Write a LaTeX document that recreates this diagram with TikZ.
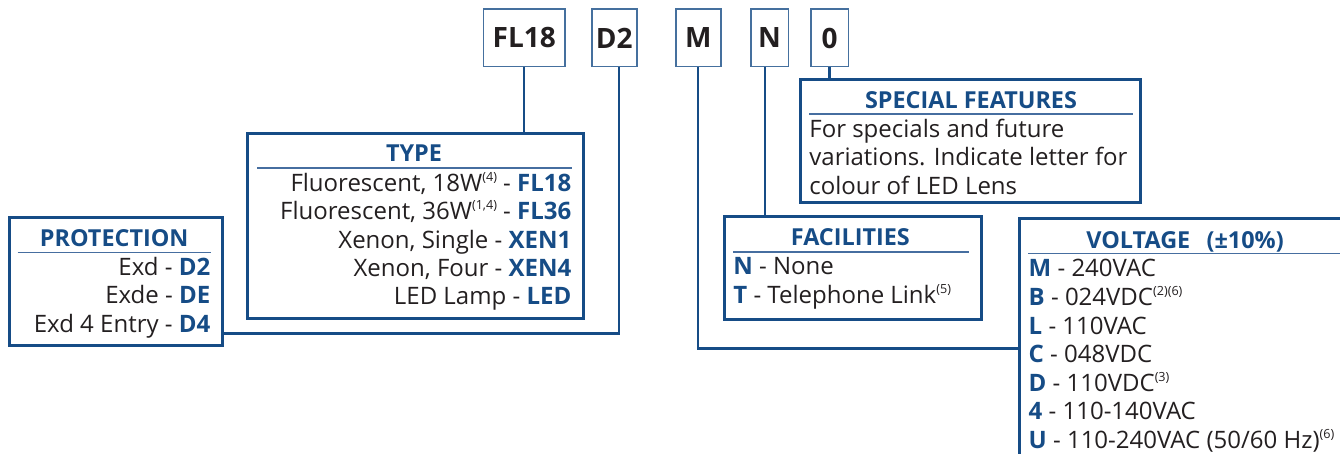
\documentclass[tikz,border=0pt]{standalone}
\usepackage{fontspec}
\setmainfont{Open Sans}
\usetikzlibrary{positioning}

\definecolor{frameblue}{RGB}{22,76,134}
\definecolor{ruleblue}{RGB}{70,110,160}
\definecolor{textgray}{RGB}{35,31,32}

\newcommand\code[1]{\textbf{\color{frameblue}#1}}
\newcommand\note[1]{\raisebox{.8ex}{\fontsize{6.3}{7}\selectfont(#1)}}

\tikzset{
    codebox/.style={draw=frameblue!80, line width=.8pt, minimum height=28.7pt, inner sep=0pt,
        text=textgray, font=\fontsize{14}{16}\selectfont\bfseries},
    panel/.style={draw=frameblue, line width=1.5pt, inner sep=0pt, anchor=north west},
    link/.style={draw=frameblue, line width=1.25pt},
    hrule/.style={draw=ruleblue, line width=.75pt},
    head/.style={anchor=base, inner sep=0pt, text=frameblue, font=\fontsize{11.7}{13}\selectfont\bfseries},
    item/.style={inner sep=0pt, text=textgray, font=\fontsize{12}{14}\selectfont}
}

\begin{document}
\begin{tikzpicture}[x=.5pt,y=-.5pt]
    \useasboundingbox (0,0) rectangle (1340,454);
    \clip (0,0) rectangle (1340,454);

    % code boxes
    \node[codebox, minimum width=40.85pt] (cFL) at (524.2,38) {FL18};
    \node[codebox, minimum width=22.5pt] (cD2) at (614.2,38) {D2};
    \node[codebox, minimum width=22.5pt] (cM) at (698.2,38) {M};
    \node[codebox, minimum width=18.8pt] (cN) at (769.5,38) {N};
    \node[codebox, minimum width=18.8pt] (cZero) at (829.5,38) {0};

    % panels
    \node[panel, minimum width=168.15pt, minimum height=92.5pt] (type) at (246,131.7) {};
    \node[panel, minimum width=106.35pt, minimum height=64.15pt] (protection) at (8.3,216) {};
    \node[panel, minimum width=128.7pt, minimum height=51.35pt] (facilities) at (722.8,215) {};
    \node[panel, minimum width=169.8pt, minimum height=61.65pt] (special) at (799,77.7) {};
    \node[panel, minimum width=200pt, minimum height=150pt] (voltage) at (1018.3,217.3) {};

    % type
    \node[head] (typeHead) at (414,161.7) {TYPE};
    \draw[hrule] (257,168) -- (571.7,168);
    \node[item, anchor=base east] (typeA) at (571.7,191.7) {Fluorescent, 18W\note{4} - \code{FL18}};
    \node[item, anchor=base east] (typeB) at (571.7,220) {Fluorescent, 36W\note{1,4} - \code{FL36}};
    \node[item, anchor=base east] (typeC) at (571.7,248.3) {Xenon, Single - \code{XEN1}};
    \node[item, anchor=base east] (typeD) at (571.7,276.7) {Xenon, Four - \code{XEN4}};
    \node[item, anchor=base east] (typeE) at (571.7,305) {LED Lamp - \code{LED}};

    % protection
    \node[head] (protHead) at (114.2,246.7) {PROTECTION};
    \draw[hrule] (17.7,252.3) -- (210.7,252.3);
    \node[item, anchor=base east] (protA) at (210.7,276) {Exd - \code{D2}};
    \node[item, anchor=base east] (protB) at (210.7,304) {Exde - \code{DE}};
    \node[item, anchor=base east] (protC) at (210.7,332.3) {Exd 4 Entry - \code{D4}};

    % facilities
    \node[head] (facHead) at (850.4,245.7) {FACILITIES};
    \draw[hrule] (733,252) -- (968.6,252);
    \node[item, anchor=base west] (facA) at (733,275) {\code{N} - None};
    \node[item, anchor=base west] (facB) at (733,303.3) {\code{T} - Telephone Link\note{5}};

    % special features
    \node[head] (specHead) at (971,108.3) {SPECIAL FEATURES};
    \draw[hrule] (809,114) -- (1132.8,114);
    \node[item, anchor=base west] (specA) at (809,137.3) {For specials and future};
    \node[item, anchor=base west] (specB) at (809,166) {variations. Indicate letter for};
    \node[item, anchor=base west] (specC) at (809,194.3) {colour of LED Lens};

    % voltage
    \node[head] (voltHead) at (1185,248.3) {VOLTAGE\hspace{.7em}(±10\%)};
    \draw[hrule] (1028.3,253.3) -- (1400,253.3);
    \node[item, anchor=base west] (voltA) at (1028.3,277) {\code{M} - 240VAC};
    \node[item, anchor=base west] (voltB) at (1028.3,305.6) {\code{B} - 024VDC\note{2}\note{6}};
    \node[item, anchor=base west] (voltC) at (1028.3,334.2) {\code{L} - 110VAC};
    \node[item, anchor=base west] (voltD) at (1028.3,362.8) {\code{C} - 048VDC};
    \node[item, anchor=base west] (voltE) at (1028.3,391.4) {\code{D} - 110VDC\note{3}};
    \node[item, anchor=base west] (voltF) at (1028.3,420) {\code{4} - 110-140VAC};
    \node[item, anchor=base west] (voltG) at (1028.3,448.6) {\code{U} - 110-240VAC (50/60 Hz)\note{6}};

    % connectors
    \coordinate (d2foot) at ([xshift=2.5pt]cD2.south);
    \coordinate (nfoot) at ([xshift=-2.25pt]cN.south);
    \draw[link] (cFL.south) -- (cFL.south |- type.north);
    \draw[link] (d2foot) |- ([yshift=6.8pt]protection.south east);
    \draw[link] (cM.south) |- ([yshift=-65.5pt]voltage.north west);
    \draw[link] (nfoot) -- (nfoot |- facilities.north);
    \draw[link] (cZero.south) -- (cZero.south |- special.north);
\end{tikzpicture}
\end{document}
